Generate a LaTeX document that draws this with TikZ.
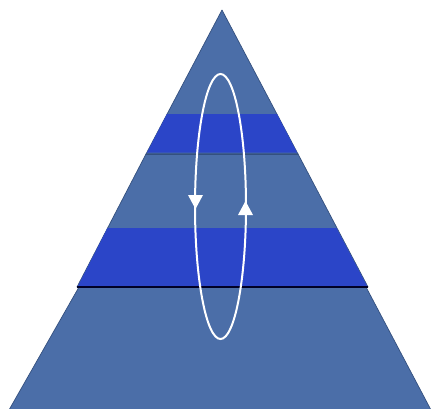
\documentclass[tikz,border=0pt]{standalone}
\definecolor{pyr}{HTML}{4B6EA8}
\definecolor{band}{HTML}{2B45C8}
\definecolor{edge}{HTML}{34507E}
\begin{document}
\begin{tikzpicture}[x=1pt,y=-1pt,
  piece/.style={fill=pyr,draw=edge,line width=0.7pt,line join=round},
  bandbox/.style={fill=band},
  loopline/.style={draw=white,line width=2pt},
  tiphead/.style={fill=white}]
\useasboundingbox (0,0) rectangle (431,408);
% pyramid pieces
\coordinate (apex) at (222,10);
\draw[piece] (apex) -- (298,154) -- (146,154) -- cycle;
\draw[piece] (146,154) -- (298,154) -- (368,287) -- (77,287) -- cycle;
\draw[piece] (79,287) -- (366,287) -- (431,410) -- (9,410) -- cycle;
% bands
\fill[bandbox] (167,114) -- (277,114) -- (297,152.5) -- (147,152.5) -- cycle;
\fill[bandbox] (107.5,228) -- (336.5,228) -- (367,286) -- (78,286) -- cycle;
\draw[edge,line width=0.8pt] (146,154) -- (298,154);
\draw[black!85!blue,line width=2pt] (77,287) -- (368,287);
% loop
\coordinate (c) at (220.5,206.5);
\draw[loopline] (c) ellipse [x radius=25.5, y radius=132.5];
\fill[tiphead] (188,195) -- (203,195) -- (195.5,209) -- cycle;
\fill[tiphead] (238,215) -- (253,215) -- (245.5,201) -- cycle;
\end{tikzpicture}
\end{document}
